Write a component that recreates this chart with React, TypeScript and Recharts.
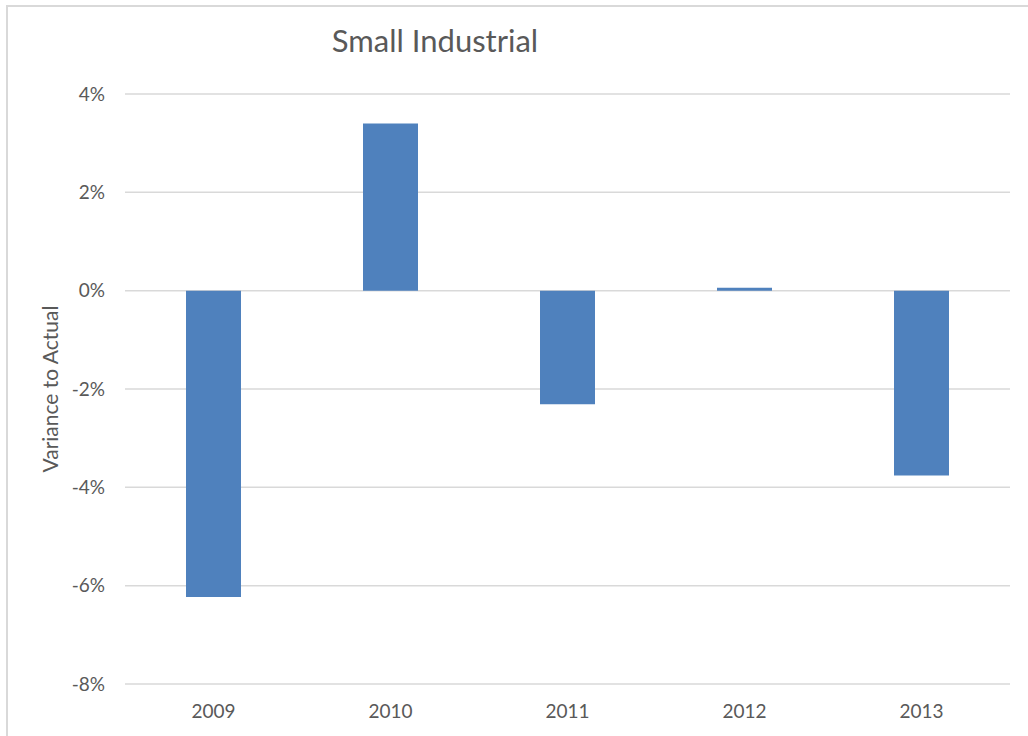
import { BarChart, Bar, XAxis, YAxis, CartesianGrid, Label } from 'recharts';

const years = ['2009', '2010', '2011', '2012', '2013'];
const variance = [-0.0623, 0.034, -0.0231, 0.0006, -0.0376];
const yTicks = [-0.08, -0.06, -0.04, -0.02, 0, 0.02, 0.04];

const data = years.map((year, i) => ({ year, variance: variance[i] }));

const FONT = 'Lato, "Open Sans", sans-serif';
const TEXT = '#595959';

function formatPct(v: number): string {
  return `${Math.round(v * 100)}%`;
}

function YLabel(props: any) {
  const vb = props.viewBox || { x: 0, y: 0, height: 0 };
  const cx = vb.x + 58;
  const cy = vb.y + vb.height / 2;
  return (
    <text
      x={cx}
      y={cy}
      transform={`rotate(-90, ${cx}, ${cy})`}
      textAnchor="middle"
      fill={TEXT}
      fontSize={21}
      fontFamily={FONT}
    >
      Variance to Actual
    </text>
  );
}

export default function App() {
  return (
    <div
      style={{
        position: 'absolute',
        left: 0,
        top: 0,
        width: 1028,
        height: 736,
        overflow: 'hidden',
        background: '#fff',
      }}
    >
      {/* chart frame, only the top and left edges are in view */}
      <div
        style={{
          position: 'absolute',
          left: 6,
          top: 5,
          width: 1100,
          height: 800,
          border: '2px solid #d9d9d9',
        }}
      />
      <div
        style={{
          position: 'absolute',
          left: 0,
          top: 22,
          width: 870,
          textAlign: 'center',
          fontFamily: FONT,
          fontSize: 31,
          lineHeight: 1.2,
          color: TEXT,
        }}
      >
        Small Industrial
      </div>
      <div style={{ position: 'absolute', left: 0, top: 0 }}>
        <BarChart
          width={1028}
          height={736}
          data={data}
          margin={{ top: 94, right: 18, left: 0, bottom: 0 }}
        >
          <CartesianGrid vertical={false} stroke="#d9d9d9" strokeWidth={1.5} />
          <XAxis
            dataKey="year"
            height={52}
            axisLine={false}
            tickLine={false}
            tickSize={0}
            tickMargin={21}
            tick={{ fill: TEXT, fontSize: 19, fontFamily: FONT }}
          />
          <YAxis
            width={125}
            domain={[-0.08, 0.04]}
            ticks={yTicks}
            tickFormatter={formatPct}
            axisLine={false}
            tickLine={false}
            tickSize={0}
            tickMargin={20}
            tick={{ fill: TEXT, fontSize: 19, fontFamily: FONT }}
          >
            <Label content={<YLabel />} />
          </YAxis>
          <Bar
            dataKey="variance"
            fill="#4F81BD"
            barSize={55}
            isAnimationActive={false}
          />
        </BarChart>
      </div>
    </div>
  );
}
